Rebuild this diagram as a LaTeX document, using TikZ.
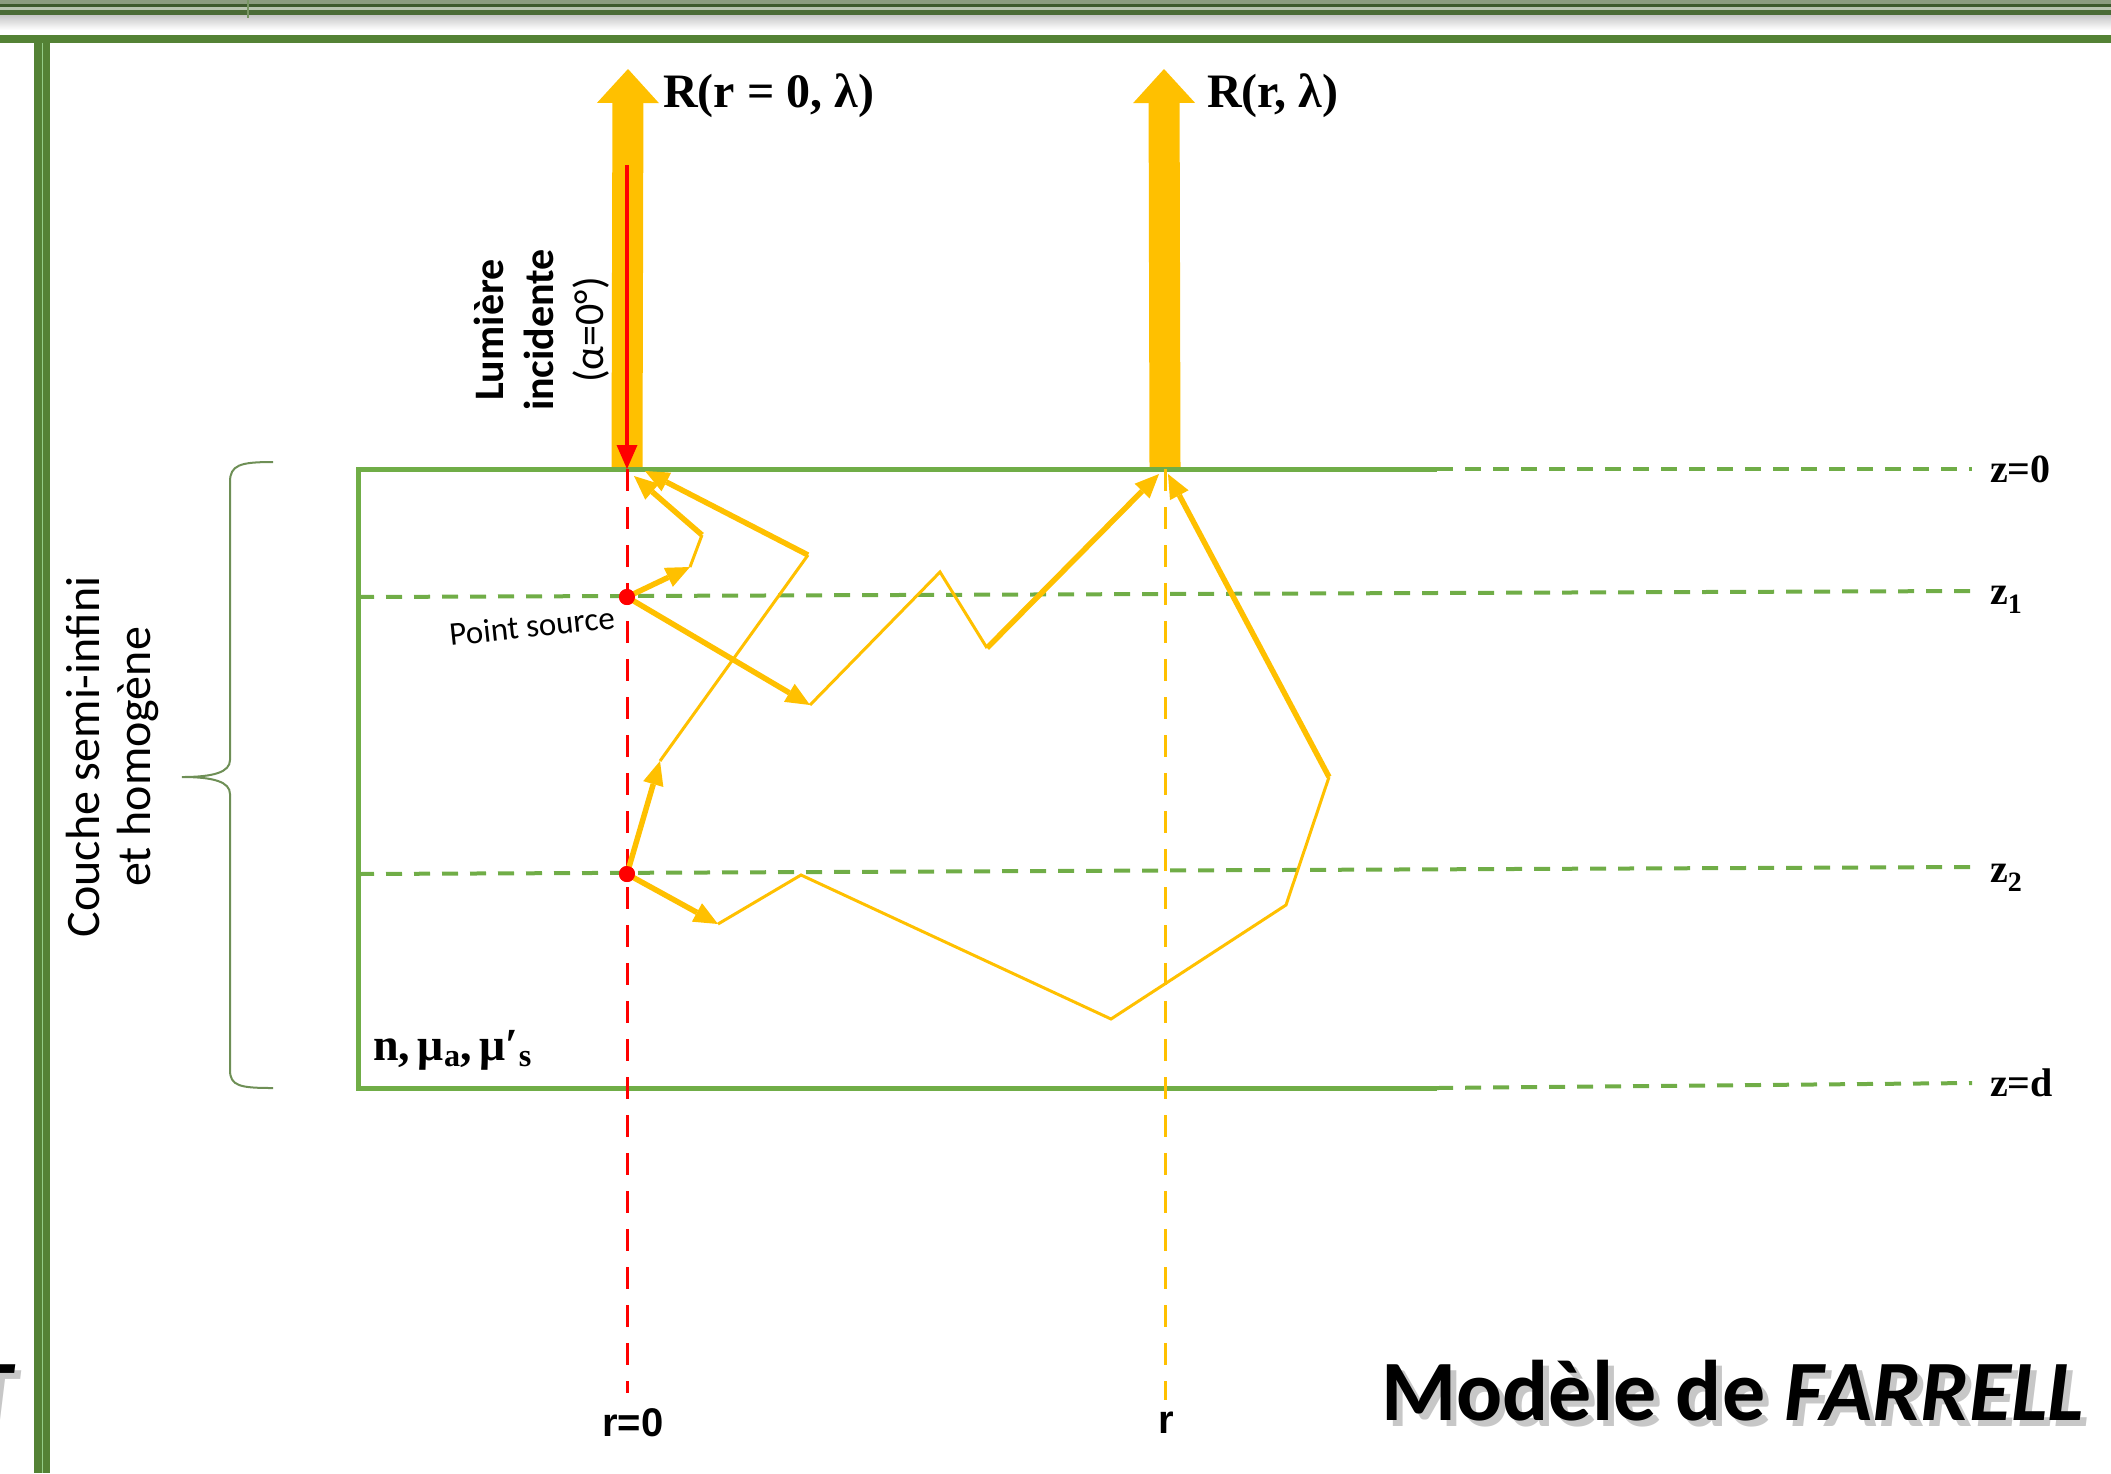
\documentclass[tikz,border=0pt]{standalone}
\usepackage{fontspec}
\setmainfont{Liberation Serif}
\newfontfamily\calib{Carlito}
\newfontfamily\arialf{Liberation Sans}
\usetikzlibrary{arrows.meta}

\definecolor{frameg}{HTML}{548235}
\definecolor{layerg}{HTML}{70AD47}
\definecolor{gold}{HTML}{FFC000}
\definecolor{braceg}{HTML}{6E8F56}

\begin{document}
\begin{tikzpicture}[x=1pt, y=-1pt,
  layerline/.style={draw=layerg, line width=5pt},
  zline/.style={draw=layerg, line width=4pt, dash pattern=on 16pt off 12pt},
  rline/.style={line width=3pt, dash pattern=on 22pt off 16pt},
  walk/.style={draw=gold, line width=3pt},
  jump/.style={draw=gold, line width=5.5pt, -{Triangle[length=24pt,width=21pt,line width=0pt]}},
  beam/.style={draw=gold, line width=31pt, -{Triangle[length=34pt,width=62pt,line width=0pt]}},
  zlab/.style={font=\fontsize{40}{44}\selectfont\bfseries, inner sep=0pt},
  rlab/.style={font=\arialf\fontsize{40}{44}\selectfont\bfseries, inner sep=0pt},
  rtitle/.style={font=\fontsize{48}{52}\selectfont\bfseries, inner sep=0pt, anchor=base west},
  title/.style={font=\calib\fontsize{86}{90}\selectfont\bfseries, inner sep=0pt, anchor=base east},
  srcdot/.style={circle, fill=red, inner sep=0pt, minimum size=16pt}]
\useasboundingbox (0,0) rectangle (2111,1473);
\clip (0,0) rectangle (2111,1473);

% slide frame
\fill[color={rgb,255:red,140;green,156;blue,128}] (0,0) rectangle (2111,4);
\fill[color={rgb,255:red,62;green,90;blue,46}] (0,4) rectangle (2111,7);
\fill[color={rgb,255:red,184;green,196;blue,176}] (0,7) rectangle (2111,10);
\fill[color={rgb,255:red,74;green,107;blue,54}] (0,10) rectangle (2111,15);
\shade[top color=gray!45, bottom color=white] (0,15) rectangle (2111,30);
\fill[color={rgb,255:red,120;green,150;blue,100}] (247,0) rectangle (249,18);
\fill[frameg] (0,35) rectangle (2111,43);
\fill[frameg] (34,35) rectangle (50,1473);
\draw[green!25!white!60!frameg, line width=1pt] (42,43) -- (42,1473);

% positions
\coordinate (top0) at (627,469);
\coordinate (topr) at (1165,469);
\coordinate (tip0) at (628,69);
\coordinate (tipr) at (1164,69);
\coordinate (redstart) at (627,165);
\coordinate (redend) at (627,1393);
\coordinate (yelend) at (1165,1400);
\coordinate (boxtl) at (358,469);
\coordinate (boxbl) at (358,1088);
\coordinate (boxtr) at (1437,469);
\coordinate (boxbr) at (1437,1088);

% depth lines
\draw[zline] (boxtr) -- (1972,469);
\draw[zline] (358,597) -- (1972,591);
\draw[zline] (358,874) -- (1972,867);
\draw[zline] (boxbr) -- (1972,1083);

% reflected beams
\draw[beam] (top0) -- (tip0);
\draw[beam] (topr) -- (tipr);

% layer
\draw[layerline] (boxtr) -- (boxtl) -- (boxbl) -- (boxbr);

\draw[red, rline] (top0) -- (redend);
\draw[gold, rline] (topr) -- (yelend);

\node[srcdot] (src1) at (627,597) {};
\node[srcdot] (src2) at (627,874) {};

% random walks
\coordinate (a1) at (690,567);
\coordinate (a2) at (702,535);
\coordinate (e1) at (634,476);
\coordinate (b1) at (810,705);
\coordinate (b2) at (940,572);
\coordinate (b3) at (987,648);
\coordinate (e3) at (1159,474);
\coordinate (c1) at (660,761);
\coordinate (c2) at (808,555);
\coordinate (e2) at (645,471);
\coordinate (d1) at (718,924);
\coordinate (d2) at (801,875);
\coordinate (d3) at (1111,1019);
\coordinate (d4) at (1286,905);
\coordinate (d5) at (1329,777);
\coordinate (e4) at (1168,474);

\draw[jump] (src1.center) -- (a1);
\draw[walk] (a1) -- (a2);
\draw[jump] (a2) -- (e1);
\draw[jump] (src1.center) -- (b1);
\draw[walk] (b1) -- (b2) -- (b3);
\draw[jump] (b3) -- (e3);
\draw[jump] (src2.center) -- (c1);
\draw[walk] (c1) -- (c2);
\draw[jump] (c2) -- (e2);
\draw[jump] (src2.center) -- (d1);
\draw[walk] (d1) -- (d2) -- (d3) -- (d4) -- (d5);
\draw[jump] (d5) -- (e4);

% incident light
\draw[red, line width=4pt, -{Triangle[length=24pt,width=21pt,line width=0pt]}] (redstart) -- (top0);
\node[srcdot] at (src1) {};
\node[srcdot] at (src2) {};

% labels
\node[rtitle] (rzero) at (663,107) {R(r = 0, λ)};
\node[rtitle] (rany) at (1207,107) {R(r, λ)};
\node[rotate=90, align=center, inner sep=0pt, font=\calib\fontsize{42}{50}\selectfont] (incid) at (542,330)
  {\textbf{Lumière}\\\textbf{incidente}\\(α=0°)};
\node[rotate=6, inner sep=0pt, font=\calib\fontsize{33}{36}\selectfont] (ptsrc) at (532,626) {Point source};
\node[anchor=base west, inner sep=0pt, font=\fontsize{46}{50}\selectfont\bfseries] (params) at (373,1060)
  {n,\,μ\textsubscript{a},\,μ′\textsubscript{s}};
\node[zlab, anchor=west] (zz) at (1990,469) {z=0};
\node[zlab, anchor=base west] (zone) at (1990,604) {z\textsubscript{1}};
\node[zlab, anchor=base west] (ztwo) at (1990,882) {z\textsubscript{2}};
\node[zlab, anchor=west] (zd) at (1990,1083) {z=d};
\node[rlab] (rzerolab) at (633,1423) {r=0};
\node[rlab] (rlab) at (1166,1423) {r};

% layer brace
\draw[braceg, line width=2pt] (273,462) .. controls (240,462) and (230,465) .. (230,482)
  -- (230,760) .. controls (230,772) and (214,777) .. (182,777)
  .. controls (214,777) and (230,782) .. (230,794)
  -- (230,1070) .. controls (230,1086) and (240,1088) .. (273,1088);
\node[rotate=90, align=center, inner sep=0pt, font=\calib\fontsize{48}{51}\selectfont] (couche) at (112,757)
  {Couche semi-infini\\et homogène};

% slide titles
\node[title, text=black, opacity=0.22] at (2090,1426) {Modèle de \textit{FARRELL}};
\node[title] (modele) at (2084,1420) {Modèle de \textit{FARRELL}};
\node[title, text=black, opacity=0.22] at (22,1426) {\textit{T}};
\node[title] (lefttitle) at (16,1420) {\textit{T}};
\end{tikzpicture}
\end{document}
